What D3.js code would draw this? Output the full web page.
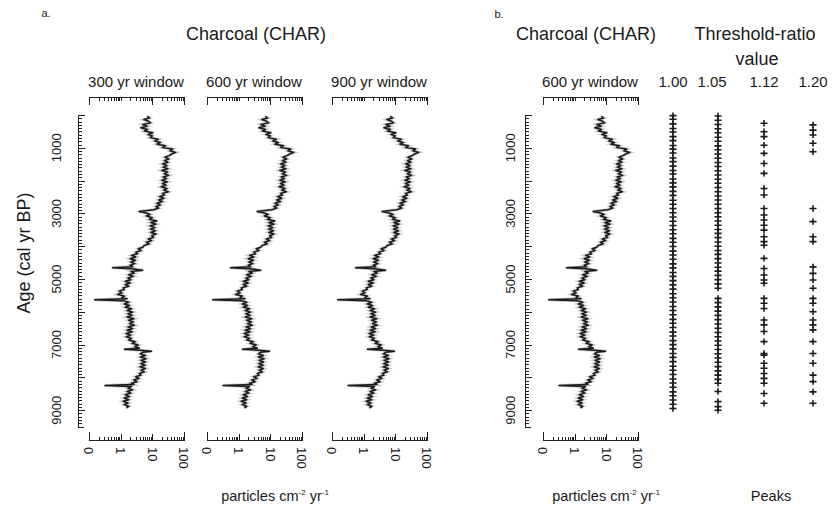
<!DOCTYPE html>
<html>
<head>
<meta charset="utf-8">
<script src="https://cdn.jsdelivr.net/npm/d3@7.9.0/dist/d3.min.js"></script>
<style>
  html, body { margin: 0; padding: 0; background: #fff; }
  svg { display: block; font-family: "Liberation Sans", Arial, Helvetica, sans-serif; }
  .axis path, .axis line { stroke: #222; stroke-width: 1; shape-rendering: crispEdges; }
</style>
</head>
<body>
<svg id="chart" width="834" height="511"></svg>
<script>
// ----- Data -----
// CHAR record: [age (cal yr BP), particles cm-2 yr-1]
const charSeries = [
  [40, 6.8], [90, 8.2], [140, 5.4], [190, 7.6], [240, 8.8], [290, 5.0], [340, 6.8], [390, 4.3],
  [440, 7.0], [490, 5.6], [540, 10.5], [590, 7.2], [640, 10], [690, 8.5], [740, 15.5], [790, 12],
  [840, 18], [890, 14], [940, 26], [990, 21], [1040, 44], [1090, 36], [1140, 55], [1190, 40],
  [1240, 34], [1290, 25], [1340, 33], [1390, 24], [1440, 31], [1490, 21], [1540, 29], [1590, 22],
  [1640, 31], [1690, 20], [1740, 30], [1790, 24], [1840, 33], [1890, 22], [1940, 28], [1990, 20],
  [2040, 30], [2090, 21], [2140, 27], [2190, 19], [2240, 29], [2290, 23], [2340, 32], [2390, 21],
  [2440, 24], [2490, 17], [2540, 23], [2590, 16], [2640, 21], [2690, 14], [2740, 18], [2790, 13],
  [2840, 16], [2890, 11], [2940, 3.8], [2980, 6.0], [3030, 8.5], [3080, 6.5], [3130, 10], [3180, 8],
  [3230, 14], [3280, 9], [3330, 13], [3380, 8.5], [3430, 12], [3480, 8.8], [3530, 12.5], [3580, 9],
  [3630, 13], [3680, 9.5], [3730, 11], [3780, 7.5], [3830, 9.5], [3880, 6.5], [3930, 8], [3980, 5.5],
  [4030, 5], [4080, 3.6], [4130, 4.4], [4180, 3.0], [4230, 3.4], [4280, 2.2], [4330, 3.0], [4380, 2.0],
  [4430, 2.9], [4480, 2.1], [4530, 2.8], [4580, 2.0], [4630, 2.4], [4660, 0.55], [4690, 2.2], [4730, 5.0],
  [4770, 2.1], [4820, 2.7], [4870, 1.8], [4920, 2.5], [4970, 1.7], [5020, 2.1], [5070, 1.4], [5120, 2.0],
  [5170, 1.4], [5220, 1.8], [5270, 1.2], [5320, 1.3], [5370, 0.9], [5420, 1.1], [5470, 0.8], [5520, 1.3],
  [5570, 1.1], [5600, 1.6], [5630, 0.15], [5660, 1.2], [5710, 1.8], [5760, 1.3], [5810, 1.9], [5860, 1.4],
  [5910, 2.2], [5960, 1.6], [6010, 2.4], [6060, 1.7], [6110, 2.3], [6160, 1.6], [6210, 2.6], [6260, 1.8],
  [6310, 2.5], [6360, 1.9], [6410, 2.7], [6460, 1.7], [6510, 2.4], [6560, 1.6], [6610, 2.3], [6660, 1.5],
  [6710, 2.1], [6760, 1.5], [6810, 2.2], [6860, 1.8], [6910, 2.9], [6960, 2.3], [7010, 3.6], [7060, 2.8],
  [7110, 3.9], [7140, 1.3], [7170, 4.2], [7200, 9.5], [7230, 5.0], [7280, 4.2], [7330, 6.0], [7380, 4.2],
  [7430, 6.3], [7480, 4.4], [7530, 6.1], [7580, 4.3], [7630, 5.9], [7680, 4.1], [7730, 6.0], [7780, 4.4],
  [7830, 5.6], [7880, 3.9], [7930, 4.4], [7980, 3.0], [8030, 3.8], [8080, 2.6], [8130, 3.3], [8180, 2.2],
  [8220, 2.6], [8250, 0.32], [8280, 2.2], [8330, 1.7], [8380, 2.4], [8430, 1.6], [8480, 2.1], [8530, 1.4],
  [8580, 1.9], [8630, 1.3], [8680, 1.8], [8730, 1.2], [8780, 1.7], [8830, 1.3], [8880, 1.8], [8930, 1.5]
];

// peak ages (cal yr BP) for each threshold-ratio value
const peaks100 = [20, 130, 270, 410, 520, 660, 780, 930, 1040, 1160, 1310, 1420, 1560, 1690, 1800, 1950,
  2070, 2190, 2330, 2450, 2600, 2720, 2850, 2980, 3110, 3240, 3370, 3500, 3620, 3760, 3880, 4010, 4150,
  4270, 4400, 4540, 4660, 4800, 4920, 5050, 5180, 5310, 5450, 5570, 5700, 5840, 5960, 6090, 6230, 6350,
  6480, 6620, 6740, 6880, 7000, 7130, 7270, 7390, 7520, 7660, 7780, 7910, 8050, 8170, 8300, 8440, 8560,
  8690, 8820, 8950];
const peaks105 = [30, 160, 290, 420, 540, 680, 800, 940, 1060, 1190, 1320, 1450, 1570, 1700, 1830, 1960,
  2080, 2210, 2340, 2470, 2590, 2720, 2850, 2980, 3100, 3230, 3360, 3490, 3610, 3740, 3870, 4000, 4130,
  4250, 4380, 4510, 4640, 4760, 4890, 5020, 5150, 5280, 5590, 5720, 5850, 5980, 6110, 6240, 6370, 6500,
  6630, 6760, 6890, 7020, 7150, 7280, 7410, 7540, 7670, 7800, 7930, 8060, 8180, 8430, 8740, 8890, 9000];
const peaks112 = [250, 510, 660, 920, 1170, 1480, 1780, 2240, 2440, 2850, 3050, 3200, 3360, 3510, 3710,
  3860, 3970, 4370, 4680, 4880, 5030, 5130, 5590, 5740, 5900, 6250, 6400, 6600, 6910, 7270, 7320, 7570,
  7720, 7880, 8030, 8180, 8490, 8790];
const peaks120 = [300, 460, 610, 860, 1120, 2850, 3250, 3710, 3860, 4630, 4830, 5030, 5280, 5590, 5740,
  6000, 6250, 6400, 6550, 6910, 7270, 7570, 7930, 8130, 8440, 8790];

const thresholdLabels = ["1.00", "1.05", "1.12", "1.20"];
const peakSets = [peaks100, peaks105, peaks112, peaks120];
const windowLabels = ["300 yr window", "600 yr window", "900 yr window"];
const ageTickLabels = [1000, 3000, 5000, 7000, 9000];
const charTickValues = [0.1, 1, 10, 100];
const charTickLabels = ["0", "1", "10", "100"];

// ----- Setup -----
const svg = d3.select("#chart");
const y = d3.scaleLinear().domain([0, 9500]).range([115, 426.6]);
const ink = "#1a1a1a";

function addText(x, yPos, str, size, opts = {}) {
  return svg.append("text")
    .attr("x", x).attr("y", yPos)
    .attr("font-size", size)
    .attr("fill", ink)
    .attr("text-anchor", opts.anchor || "middle")
    .text(str);
}

// ----- Age axis (left, ticks pointing inward) -----
function drawAgeAxis(xPos, labelX) {
  const g = svg.append("g").attr("class", "axis")
    .attr("transform", `translate(${xPos},0)`)
    .call(d3.axisRight(y)
      .tickValues(d3.range(0, 9501, 100))
      .tickSize(4).tickSizeOuter(6).tickFormat(""));
  g.selectAll(".tick line").attr("x2", d => d % 1000 === 0 ? 7 : 4);
  g.select(".domain").attr("fill", "none");

  svg.selectAll(null).data(ageTickLabels).enter().append("text")
    .attr("transform", d => `translate(${labelX},${y(d)}) rotate(-90)`)
    .attr("text-anchor", "middle")
    .attr("font-size", 13)
    .attr("fill", ink)
    .text(d => d);
}

// ----- One CHAR panel -----
function drawCharPanel(x0, label, labelY) {
  const x = d3.scaleLog().domain([0.1, 100]).range([x0, x0 + 95]);
  const ticks = x.ticks();

  addText(x0 + 47, labelY, label, 15);

  // top axis, ticks hanging down
  const top = svg.append("g").attr("class", "axis")
    .attr("transform", "translate(0,97)")
    .call(d3.axisBottom(x).tickValues(ticks).tickSize(3.5).tickSizeOuter(8).tickFormat(""));
  top.selectAll(".tick line").attr("y2", d => d === 10 ? 8 : 3.5);
  top.select(".domain").attr("fill", "none");

  // bottom axis, ticks pointing up
  const bot = svg.append("g").attr("class", "axis")
    .attr("transform", "translate(0,440)")
    .call(d3.axisTop(x).tickValues(ticks).tickSize(3.5).tickSizeOuter(8).tickFormat(""));
  bot.selectAll(".tick line").attr("y2", d => (d === 1 || d === 10) ? -6 : -3.5);
  bot.select(".domain").attr("fill", "none");

  svg.selectAll(null).data(charTickValues).enter().append("text")
    .attr("transform", d => `translate(${x(d)},447) rotate(90)`)
    .attr("dy", "0.35em")
    .attr("text-anchor", "start")
    .attr("font-size", 13)
    .attr("fill", ink)
    .text((d, i) => charTickLabels[i]);

  // CHAR curve: soft grey halo under a dark line, like the scanned original
  const line = d3.line()
    .x(d => x(d[1]))
    .y(d => y(d[0]));
  svg.append("path")
    .datum(charSeries)
    .attr("d", line)
    .attr("fill", "none")
    .attr("stroke", "#888")
    .attr("stroke-opacity", 0.45)
    .attr("stroke-width", 3);
  svg.append("path")
    .datum(charSeries)
    .attr("d", line)
    .attr("fill", "none")
    .attr("stroke", ink)
    .attr("stroke-width", 1.5)
    .attr("stroke-linejoin", "round");
}

function particlesLabel(cx) {
  const t = addText(cx, 501, "particles cm", 14.5);
  t.append("tspan").attr("font-size", 8).attr("dy", -6).text("-2");
  t.append("tspan").attr("dy", 6).text(" yr");
  t.append("tspan").attr("font-size", 8).attr("dy", -6).text("-1");
}

// ----- Panel a -----
addText(46, 17, "a.", 11);
addText(256, 40, "Charcoal (CHAR)", 18);
svg.append("text")
  .attr("transform", `translate(30,253) rotate(-90)`)
  .attr("text-anchor", "middle")
  .attr("font-size", 18)
  .attr("fill", ink)
  .text("Age (cal yr BP)");
drawAgeAxis(78, 61);
[89, 207, 332].forEach((x0, i) => drawCharPanel(x0, windowLabels[i], 87));
particlesLabel(275);

// ----- Panel b -----
addText(499, 18, "b.", 11);
addText(586, 40, "Charcoal (CHAR)", 18);
addText(755, 40, "Threshold-ratio", 18);
addText(757, 65, "value", 18);
drawAgeAxis(525, 515);
drawCharPanel(543, "600 yr window", 87);
particlesLabel(606);
addText(771, 501, "Peaks", 14.5);

// ----- Peaks columns -----
const px = d3.scaleOrdinal().domain(thresholdLabels).range([673, 718, 764, 813]);
// thin-armed plus marker
const plusType = {
  draw(ctx, size) {
    const r = Math.sqrt(size) / 2;
    ctx.moveTo(-r, 0); ctx.lineTo(r, 0);
    ctx.moveTo(0, -r * 0.9); ctx.lineTo(0, r * 0.9);
  }
};
const plus = d3.symbol().type(plusType).size(50);

thresholdLabels.forEach((lab, i) => {
  addText(px(lab) + (i === 1 ? -6 : 0), 87, lab, 15);
  svg.append("g").selectAll("path")
    .data(peakSets[i])
    .enter()
    .append("path")
    .attr("transform", d => `translate(${px(lab)},${y(d)})`)
    .attr("d", plus)
    .attr("fill", "none")
    .attr("stroke", ink)
    .attr("stroke-width", 1.6);
});
</script>
</body>
</html>
